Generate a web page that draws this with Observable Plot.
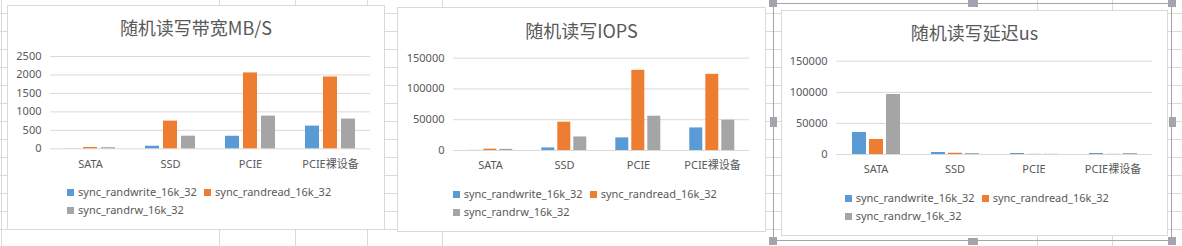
<!DOCTYPE html>
<html><head><meta charset="utf-8">
<script src="https://cdn.jsdelivr.net/npm/d3@7"></script>
<script src="https://cdn.jsdelivr.net/npm/@observablehq/plot@0.6"></script>
<style>
html,body{margin:0;padding:0;background:#fff;}
#sheet{position:relative;width:1182px;height:246px;overflow:hidden;background:#fff;font-family:"Noto Sans","Noto Sans CJK SC",sans-serif;color:#595959;}
.gl{position:absolute;background:#dadada;}
.box{position:absolute;background:#fff;border:1px solid #d9d9d9;box-sizing:border-box;}
.title{position:absolute;text-align:center;font-family:"Noto Sans CJK SC",sans-serif;font-size:18px;line-height:20px;color:#595959;white-space:nowrap;}
.plot{position:absolute;}
.leg{position:absolute;display:flex;align-items:center;font-size:11px;line-height:12px;white-space:nowrap;color:#595959;}
.sw{width:7px;height:7px;margin-right:4px;flex:none;}
.frame{position:absolute;border:1px solid #a6a6a6;box-sizing:border-box;}
.handle{position:absolute;background:#a4a4ae;}
</style></head><body><div id="sheet"></div>
<script>
// ---- data ----
const categories = ["SATA", "SSD", "PCIE", "PCIE裸设备"];
const seriesNames = ["sync_randwrite_16k_32", "sync_randread_16k_32", "sync_randrw_16k_32"];
const colors = ["#5B9BD5", "#ED7D31", "#A5A5A5"];

const bandwidthWrite = [3, 70, 340, 615];
const bandwidthRead = [35, 750, 2055, 1945];
const bandwidthRW = [30, 342, 885, 805];
const bandwidthTicks = [0, 500, 1000, 1500, 2000, 2500];

const iopsWrite = [150, 4200, 20500, 36700];
const iopsRead = [2200, 46000, 130300, 123800];
const iopsRW = [1900, 22000, 55700, 49200];
const iopsTicks = [0, 50000, 100000, 150000];

const latencyWrite = [35400, 3200, 1600, 1600];
const latencyRead = [24100, 2000, 300, 250];
const latencyRW = [96500, 1500, 300, 1500];
const latencyTicks = [0, 50000, 100000, 150000];

const titles = ["随机读写带宽MB/S", "随机读写IOPS", "随机读写延迟us"];

// ---- layout (page coordinates) ----
const layouts = [
  {box:{l:7,t:5,r:385,b:229.5}, plot:{l:50,r:370,t:56,b:148.3}, titleY:27, legend:{x:67,y:192}, pad:{inner:0.222,outer:0.833}},
  {box:{l:397,t:7.3,r:766,b:232}, plot:{l:451.7,r:751,t:58,b:150.3}, titleY:29.5, legend:{x:452.7,y:194}, pad:{inner:0.21,outer:0.87}},
  {box:{l:781,t:10,r:1168,b:236}, plot:{l:835,r:1152.7,t:60.7,b:154}, titleY:31.7, legend:{x:844.7,y:198.3}, pad:{inner:0.2,outer:0.87}}
];
const seriesValues = [
  [bandwidthWrite, bandwidthRead, bandwidthRW],
  [iopsWrite, iopsRead, iopsRW],
  [latencyWrite, latencyRead, latencyRW]
];
const tickSets = [bandwidthTicks, iopsTicks, latencyTicks];

const sheet = document.getElementById("sheet");
function div(cls, css) {
  const d = document.createElement("div");
  d.className = cls;
  Object.assign(d.style, css);
  sheet.appendChild(d);
  return d;
}

// spreadsheet cell grid
for (let y = -4.7; y < 250; y += 18) div("gl", {left:"0px", top:y+"px", width:"1182px", height:"1px"});
[0.5, 219, 295, 367, 442, 1037, 1112].forEach(x => div("gl", {left:x+"px", top:"0px", width:"1px", height:"246px"}));

layouts.forEach((L, k) => {
  const b = L.box, p = L.plot;
  div("box", {left:b.l+"px", top:b.t+"px", width:(b.r-b.l)+"px", height:(b.b-b.t)+"px"});
  const t = div("title", {left:b.l+"px", width:(b.r-b.l)+"px", top:(L.titleY-10)+"px"});
  t.textContent = titles[k];

  const data = categories.flatMap((c, i) => seriesNames.map((s, j) => ({category:c, series:s, value:seriesValues[k][j][i]})));
  const ticks = tickSets[k];
  const W = b.r - b.l, H = 175;
  const chart = Plot.plot({
    width: W, height: H,
    marginLeft: p.l - b.l, marginRight: b.r - p.r,
    marginTop: p.t - b.t, marginBottom: b.t + H - p.b,
    style: {fontFamily:"'Noto Sans','Noto Sans CJK SC',sans-serif", fontSize:"11px", color:"#595959", background:"transparent", overflow:"visible"},
    facet: {data, x:"category"},
    fx: {domain:categories, padding:0, axis:"bottom", label:null, tickSize:0, tickPadding:11},
    x: {domain:seriesNames, paddingInner:L.pad.inner, paddingOuter:L.pad.outer, axis:null},
    y: {domain:[0, d3.max(ticks)], ticks:ticks, tickSize:0, tickPadding:9, label:null, tickFormat:d => String(d)},
    color: {domain:seriesNames, range:colors},
    marks: [
      Plot.ruleY(ticks, {stroke:"#d9d9d9", strokeWidth:1}),
      Plot.barY(data, {x:"series", y:"value", fill:"series"})
    ]
  });
  chart.classList.add("plot");
  chart.style.position = "absolute";
  chart.style.left = b.l + "px";
  chart.style.top = b.t + "px";
  sheet.appendChild(chart);

  // legend
  const offs = [[0,0],[137,0],[0,18]];
  seriesNames.forEach((s, j) => {
    const item = div("leg", {left:(L.legend.x+offs[j][0])+"px", top:(L.legend.y+offs[j][1]-6)+"px"});
    const sw = document.createElement("span"); sw.className = "sw"; sw.style.background = colors[j];
    const tx = document.createElement("span"); tx.textContent = s;
    item.appendChild(sw); item.appendChild(tx);
  });
});

// selection frame around third chart
const F = {l:773, t:3, r:1172, b:241};
div("frame", {left:F.l+"px", top:F.t+"px", width:(F.r-F.l)+"px", height:(F.b-F.t)+"px"});
const mx = (F.l+F.r)/2, my = (F.t+F.b)/2;
[[F.l,F.t,8,8],[F.r,F.t,8,8],[F.l,F.b,8,8],[F.r,F.b,8,8],[mx,F.t,10,7],[mx,F.b,10,7],[F.l,my,7,10],[F.r,my,7,10]]
  .forEach(([x,y,w,h]) => div("handle", {left:(x-w/2)+"px", top:(y-h/2)+"px", width:w+"px", height:h+"px"}));
</script></body></html>
